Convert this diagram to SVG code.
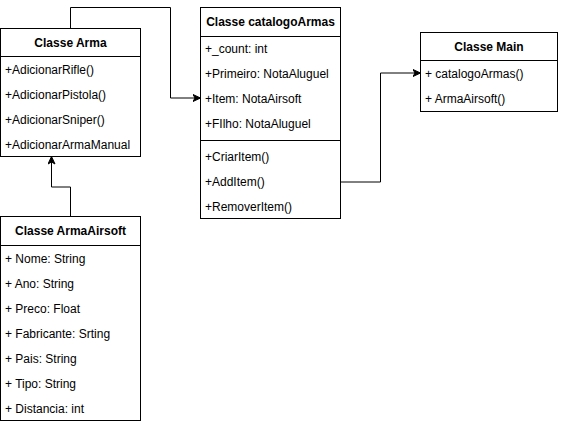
<svg xmlns="http://www.w3.org/2000/svg" width="561" height="422" viewBox="0 0 561 422">
<defs>
<marker id="arr" markerUnits="userSpaceOnUse" markerWidth="10" markerHeight="10" refX="8" refY="4" orient="auto">
<path d="M0.5,0.5 L8,4 L0.5,7.5 L2.5,4 Z" fill="#000" stroke="#000" stroke-width="1"/>
</marker>
<style>
rect, line { fill: #fff; stroke: #000; stroke-width: 1; }
line { fill: none; }
text { font-family: "Liberation Sans", Arial, Helvetica, sans-serif; font-size: 12px; fill: #000; }
.h { font-weight: bold; text-anchor: middle; }
.edge { fill: none; stroke: #000; stroke-width: 1; marker-end: url(#arr); }
</style>
</defs>
<rect x="0" y="0" width="561" height="422" style="fill:#fff;stroke:none"/>

<g id="connectors">
<path class="edge" d="M70.5,28.5 V7.5 H170.5 V98 H200.5"/>
<path class="edge" d="M70.5,216.5 V187 H51.5 V156.5"/>
<path class="edge" d="M340.5,182 H380.5 V73 H420.5"/>
</g>

<g id="arma">
<rect x="0.5" y="28.5" width="140" height="128"/>
<line x1="0.5" y1="56.5" x2="140.5" y2="56.5"/>
<text class="h" x="70.5" y="46.5">Classe Arma</text>
<text x="5" y="73.5">+AdicionarRifle()</text>
<text x="5" y="98.5">+AdicionarPistola()</text>
<text x="5" y="123.5">+AdicionarSniper()</text>
<text x="5" y="148.5">+AdicionarArmaManual</text>
</g>

<g id="catalogoArmas">
<rect x="200.5" y="7.5" width="140" height="211"/>
<line x1="200.5" y1="36.5" x2="340.5" y2="36.5"/>
<line x1="200.5" y1="140.5" x2="340.5" y2="140.5"/>
<text class="h" x="270.5" y="26">Classe catalogoArmas</text>
<text x="205" y="52.5">+_count: int</text>
<text x="205" y="77.5">+Primeiro: NotaAluguel</text>
<text x="205" y="102.5">+Item: NotaAirsoft</text>
<text x="205" y="127.5">+FIlho: NotaAluguel</text>
<text x="205" y="160.5">+CriarItem()</text>
<text x="205" y="185.5">+AddItem()</text>
<text x="205" y="210.5">+RemoverItem()</text>
</g>

<g id="main">
<rect x="420.5" y="32.5" width="137" height="79"/>
<line x1="420.5" y1="60.5" x2="557.5" y2="60.5"/>
<text class="h" x="489" y="50.5">Classe Main</text>
<text x="425" y="77.5">+ catalogoArmas()</text>
<text x="425" y="102.5">+ ArmaAirsoft()</text>
</g>

<g id="armaAirsoft">
<rect x="0.5" y="216.5" width="140" height="204"/>
<line x1="0.5" y1="245.5" x2="140.5" y2="245.5"/>
<text class="h" x="70.5" y="235">Classe ArmaAirsoft</text>
<text x="5" y="262.5">+ Nome: String</text>
<text x="5" y="287.5">+ Ano: String</text>
<text x="5" y="312.5">+ Preco: Float</text>
<text x="5" y="337.5">+ Fabricante: Srting</text>
<text x="5" y="362.5">+ Pais: String</text>
<text x="5" y="387.5">+ Tipo: String</text>
<text x="5" y="412.5">+ Distancia: int</text>
</g>
</svg>
